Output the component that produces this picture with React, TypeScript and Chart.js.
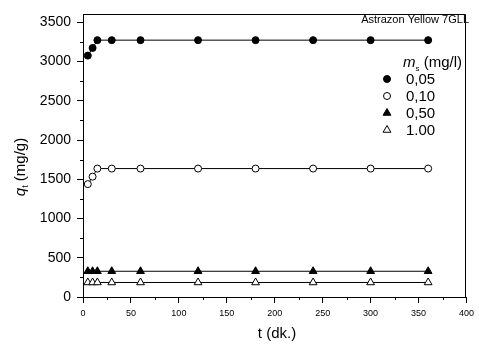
import React, { useEffect, useRef } from 'react';
import { Chart, registerables } from 'chart.js';

Chart.register(...registerables);

const times = [5, 10, 15, 30, 60, 120, 180, 240, 300, 360];
const qt005 = [3075, 3172, 3272, 3272, 3272, 3272, 3272, 3272, 3272, 3272];
const qt010 = [1438, 1533, 1636, 1636, 1636, 1636, 1636, 1636, 1636, 1636];
const qt050 = [328, 328, 328, 328, 328, 328, 328, 328, 328, 328];
const qt100 = [185, 185, 185, 185, 185, 185, 185, 185, 185, 185];
const xTickValues = [0, 50, 100, 150, 200, 250, 300, 350, 400];
const yTickValues = [0, 500, 1000, 1500, 2000, 2500, 3000, 3500];
const seriesLabels = ['0,05', '0,10', '0,50', '1.00'];
const seriesStyles = ['circle', 'circle', 'triangle', 'triangle'];
const seriesFilled = [true, false, true, false];
const chartTitle = 'Astrazon Yellow 7GLL';
const xTitle = 't (dk.)';
const yTitleMain = 'q';
const yTitleSub = 't';
const yTitleRest = ' (mg/g)';
const legendTitleMain = 'm';
const legendTitleSub = 's';
const legendTitleRest = ' (mg/l)';

const FONT = "'Liberation Sans', Arial, sans-serif";

function drawMarker(ctx: CanvasRenderingContext2D, style: string, filled: boolean, x: number, y: number, r: number) {
  ctx.save();
  ctx.beginPath();
  if (style === 'circle') {
    ctx.arc(x, y, r, 0, Math.PI * 2);
  } else {
    let rad = 0;
    const t = (2 * Math.PI) / 3;
    ctx.moveTo(x + Math.sin(rad) * r, y - Math.cos(rad) * r);
    rad += t;
    ctx.lineTo(x + Math.sin(rad) * r, y - Math.cos(rad) * r);
    rad += t;
    ctx.lineTo(x + Math.sin(rad) * r, y - Math.cos(rad) * r);
    ctx.closePath();
  }
  ctx.fillStyle = filled ? '#000' : '#fff';
  ctx.fill();
  ctx.lineWidth = 1;
  ctx.strokeStyle = '#000';
  ctx.stroke();
  ctx.restore();
}

const decorPlugin = {
  id: 'decor',
  afterDraw(chart: any) {
    const ctx: CanvasRenderingContext2D = chart.ctx;
    const { left, right, top, bottom } = chart.chartArea;
    const xs = chart.scales.x;
    const ys = chart.scales.y;
    ctx.save();
    // frame
    ctx.strokeStyle = '#000';
    ctx.lineWidth = 1;
    ctx.beginPath();
    ctx.moveTo(Math.round(left) + 0.5, Math.round(top) + 0.5);
    ctx.lineTo(Math.round(right) - 0.5, Math.round(top) + 0.5);
    ctx.lineTo(Math.round(right) - 0.5, Math.round(bottom));
    ctx.stroke();
    // minor ticks
    ctx.beginPath();
    for (let v = 25; v < 400; v += 50) {
      const px = Math.round(xs.getPixelForValue(v)) + 0.5;
      ctx.moveTo(px, bottom);
      ctx.lineTo(px, bottom + 3);
    }
    for (let v = 250; v < 3600; v += 500) {
      const py = Math.round(ys.getPixelForValue(v)) + 0.5;
      ctx.moveTo(left, py);
      ctx.lineTo(left - 3, py);
    }
    ctx.stroke();

    ctx.fillStyle = '#000';
    // chart title
    ctx.font = `11px ${FONT}`;
    ctx.textAlign = 'right';
    ctx.textBaseline = 'middle';
    ctx.fillText(chartTitle, 469, 20);

    // x title
    ctx.font = `15px ${FONT}`;
    ctx.textAlign = 'center';
    ctx.fillText(xTitle, 277, 334);

    // y title (rotated)
    ctx.save();
    ctx.translate(20, 167);
    ctx.rotate(-Math.PI / 2);
    ctx.textBaseline = 'alphabetic';
    ctx.textAlign = 'left';
    const mainFont = `italic 15px ${FONT}`;
    const subFont = `9px ${FONT}`;
    const restFont = `15px ${FONT}`;
    ctx.font = mainFont;
    const wq = ctx.measureText(yTitleMain).width;
    ctx.font = subFont;
    const wt = ctx.measureText(yTitleSub).width;
    ctx.font = restFont;
    const wr = ctx.measureText(yTitleRest).width;
    const total = wq + wt + wr;
    let cx = -total / 2;
    const base = 5;
    ctx.font = mainFont;
    ctx.fillText(yTitleMain, cx, base);
    cx += wq;
    ctx.font = subFont;
    ctx.fillText(yTitleSub, cx, base + 3);
    cx += wt;
    ctx.font = restFont;
    ctx.fillText(yTitleRest, cx, base);
    ctx.restore();

    // legend title
    ctx.textAlign = 'left';
    ctx.textBaseline = 'alphabetic';
    let lx = 403;
    const lb = 67;
    ctx.font = `italic 15px ${FONT}`;
    ctx.fillText(legendTitleMain, lx, lb);
    lx += ctx.measureText(legendTitleMain).width;
    ctx.font = `8px ${FONT}`;
    ctx.fillText(legendTitleSub, lx, lb + 4);
    lx += ctx.measureText(legendTitleSub).width;
    ctx.font = `15px ${FONT}`;
    ctx.fillText(legendTitleRest, lx, lb);

    // legend entries
    const rows = [79, 96, 113, 130];
    ctx.textBaseline = 'middle';
    ctx.font = `15px ${FONT}`;
    seriesLabels.forEach((lab, i) => {
      const r = seriesStyles[i] === 'circle' ? 3.5 : 4.5;
      drawMarker(ctx, seriesStyles[i], seriesFilled[i], 387, rows[i], r);
      ctx.fillStyle = '#000';
      ctx.fillText(lab, 406, rows[i] + 1);
    });
    ctx.restore();
  },
};

function makeDataset(values: number[], i: number) {
  const tri = seriesStyles[i] === 'triangle';
  return {
    label: seriesLabels[i],
    data: times.map((t, k) => ({ x: t, y: values[k] })),
    borderColor: '#000',
    borderWidth: 1,
    backgroundColor: seriesFilled[i] ? '#000' : '#fff',
    pointBackgroundColor: seriesFilled[i] ? '#000' : '#fff',
    pointBorderColor: '#000',
    pointBorderWidth: 1,
    pointStyle: seriesStyles[i],
    pointRadius: tri ? 4.5 : 3.5,
    tension: 0,
    fill: false,
  };
}

export default function App() {
  const ref = useRef<HTMLCanvasElement | null>(null);
  useEffect(() => {
    document.body.style.margin = '0';
    if (!ref.current) return;
    const chart = new Chart(ref.current, {
      type: 'line',
      data: {
        datasets: [
          makeDataset(qt005, 0),
          makeDataset(qt010, 1),
          makeDataset(qt050, 2),
          makeDataset(qt100, 3),
        ],
      },
      options: {
        animation: false,
        responsive: false,
        maintainAspectRatio: false,
        layout: { padding: { top: 7, right: 5, bottom: 0, left: 0 } },
        plugins: { legend: { display: false }, tooltip: { enabled: false } },
        scales: {
          x: {
            type: 'linear',
            min: 0,
            max: 400,
            afterFit: (s: any) => { s.height = 50; },
            afterBuildTicks: (s: any) => { s.ticks = xTickValues.map((v) => ({ value: v })); },
            ticks: {
              color: '#000',
              font: { family: FONT, size: 9 },
              padding: 5,
              maxRotation: 0,
              autoSkip: false,
              callback: (v: any) => String(v),
            },
            grid: { drawOnChartArea: false, drawTicks: true, tickLength: 6, color: '#000' },
            border: { color: '#000', width: 1 },
          },
          y: {
            type: 'linear',
            min: 0,
            max: 3600,
            afterFit: (s: any) => { s.width = 83; },
            afterBuildTicks: (s: any) => { s.ticks = yTickValues.map((v) => ({ value: v })); },
            ticks: {
              color: '#000',
              font: { family: FONT, size: 14 },
              padding: 6,
              autoSkip: false,
              callback: (v: any) => String(v),
            },
            grid: { drawOnChartArea: false, drawTicks: true, tickLength: 6, color: '#000' },
            border: { color: '#000', width: 1 },
          },
        },
      },
      plugins: [decorPlugin],
    });
    return () => chart.destroy();
  }, []);
  return (
    <div style={{ width: 479, height: 347 }}>
      <canvas ref={ref} width={479} height={347} style={{ display: 'block' }} />
    </div>
  );
}
